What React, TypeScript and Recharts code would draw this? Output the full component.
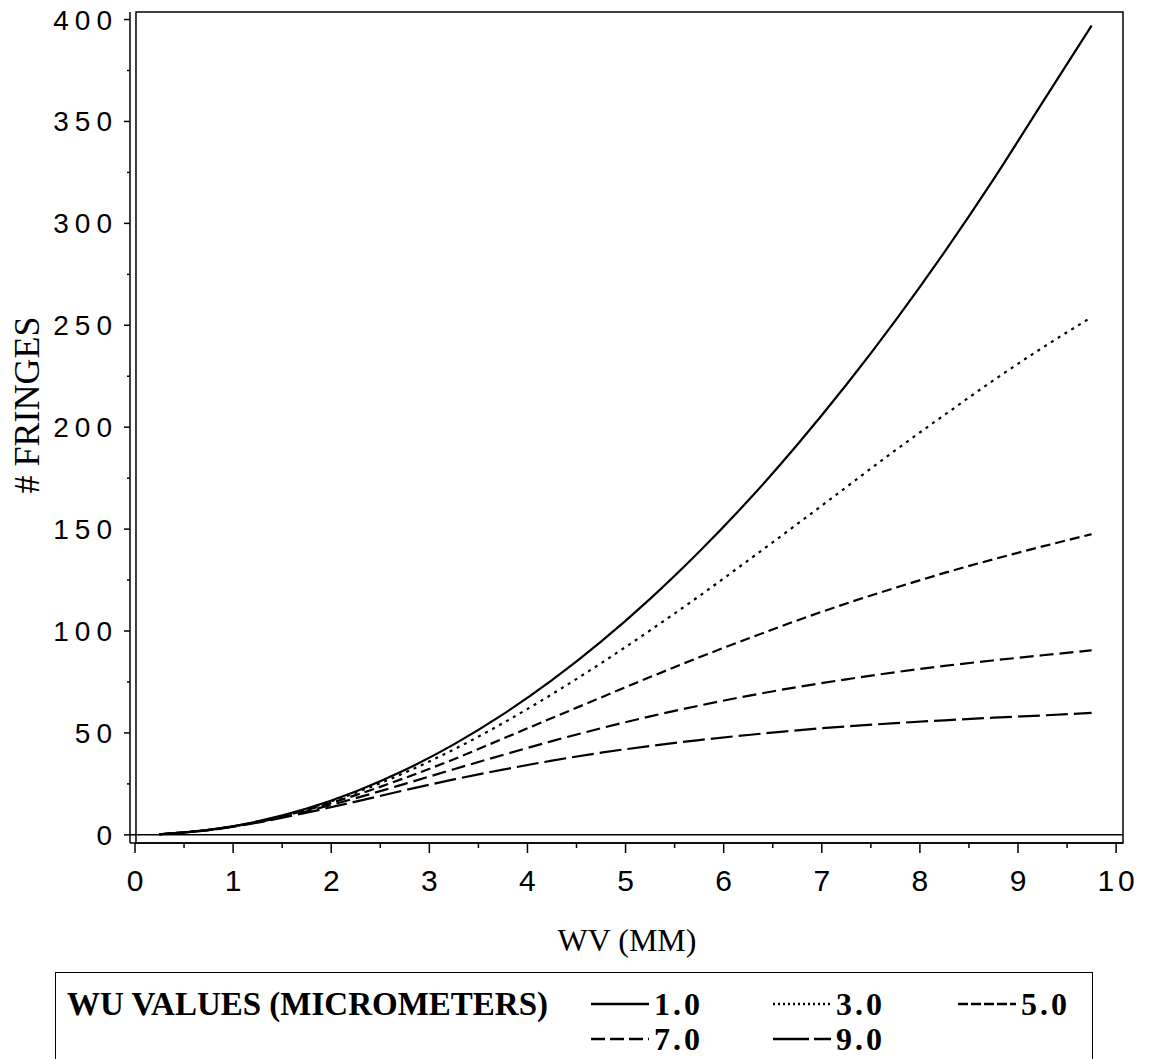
import { LineChart, Line, XAxis, YAxis, ReferenceArea, ReferenceLine, Legend } from "recharts";

// WV (mm) sample positions
const wvValues = [0.25, 0.75, 1.25, 1.75, 2.25, 2.75, 3.25, 3.75, 4.25, 4.75, 5.25, 5.75, 6.25, 6.75, 7.25, 7.75, 8.25, 8.75, 9.25, 9.75];

// # fringes per WU value (micrometers)
const wu1 = [0.3, 2.4, 6.6, 12.9, 21.3, 31.8, 44.4, 59.1, 75.9, 94.8, 115.8, 138.9, 164, 191.4, 220.8, 252.3, 285.9, 321.6, 359.4, 397];
const wu3 = [0.3, 2.4, 6.5, 12.7, 20.7, 30.5, 41.9, 54.8, 69, 84.2, 100.3, 117.1, 134.7, 152.5, 170.6, 188.7, 206, 223, 239, 254];
const wu5 = [0.3, 2.4, 6.4, 12.2, 19.5, 27.9, 37.1, 47.2, 57.3, 67.4, 77.4, 87.1, 96.3, 105.2, 113.5, 121.2, 128.5, 135.2, 141.5, 147.5];
const wu7 = [0.3, 2.35, 6.25, 11.6, 18, 25, 32.2, 39.2, 46, 52.3, 58.1, 63.4, 68.2, 72.5, 76.3, 79.8, 82.9, 85.6, 88.1, 90.5];
const wu9 = [0.3, 2.3, 6, 10.9, 16.3, 21.9, 27.2, 32, 36.4, 40.3, 43.6, 46.5, 49, 51.3, 53.2, 54.8, 56.2, 57.5, 58.6, 59.8];

const xTicks = [0, 0.5, 1, 1.5, 2, 2.5, 3, 3.5, 4, 4.5, 5, 5.5, 6, 6.5, 7, 7.5, 8, 8.5, 9, 9.5, 10];
const yTicks = [0, 25, 50, 75, 100, 125, 150, 175, 200, 225, 250, 275, 300, 325, 350, 375, 400];

const series = [
  { key: "wu1", label: "1.0", dash: undefined, legendDash: undefined },
  { key: "wu3", label: "3.0", dash: "3 5", legendDash: "2 3" },
  { key: "wu5", label: "5.0", dash: "10 5", legendDash: "10 3" },
  { key: "wu7", label: "7.0", dash: "14 6", legendDash: "14 5" },
  { key: "wu9", label: "9.0", dash: "22 6", legendDash: "36 5" },
];

const rows = wvValues.map((wv, i) => ({
  wv,
  wu1: wu1[i],
  wu3: wu3[i],
  wu5: wu5[i],
  wu7: wu7[i],
  wu9: wu9[i],
}));

const sans = "'Liberation Sans', Arial, sans-serif";
const serif = "'Liberation Serif', 'Times New Roman', serif";

function XTick({ x, y, payload }: any) {
  const major = Number.isInteger(payload.value);
  return (
    <g>
      <line x1={x} x2={x} y1={y} y2={y + (major ? 10 : 5)} stroke="#000" strokeWidth={1.5} />
      {major && (
        <text x={x} y={y + 48} dx={2} textAnchor="middle" fontSize={30} fontFamily={sans} letterSpacing={4} fill="#000">
          {payload.value}
        </text>
      )}
    </g>
  );
}

function YTick({ x, y, payload }: any) {
  const major = payload.value % 50 === 0;
  return (
    <g>
      <line x1={x - (major ? 6 : 3)} x2={x} y1={y} y2={y} stroke="#000" strokeWidth={1.5} />
      {major && (
        <text x={x - 12} y={y + 10} textAnchor="end" fontSize={28} fontFamily={sans} letterSpacing={6} fill="#000">
          {payload.value}
        </text>
      )}
    </g>
  );
}

function YTitle() {
  return (
    <text x={27} y={405} transform="rotate(-90 27 405)" textAnchor="middle" dominantBaseline="central" fontSize={36} fontFamily={serif} fill="#000">
      # FRINGES
    </text>
  );
}

function XTitle() {
  return (
    <text x={627} y={951} textAnchor="middle" fontSize={32} fontFamily={serif} fill="#000">
      WV (MM)
    </text>
  );
}

function Sample({ dash, width }: { dash?: string; width: number }) {
  return (
    <svg width={width} height={6} style={{ position: "absolute", left: 0, top: -3 }}>
      <line x1={0} x2={width} y1={3} y2={3} stroke="#000" strokeWidth={2.5} strokeDasharray={dash} />
    </svg>
  );
}

const legendCols = [535, 717, 902];

function LegendBox() {
  return (
    <div
      style={{
        position: "relative",
        width: 1038,
        height: 100,
        borderTop: "1.5px solid #000",
        borderLeft: "1.5px solid #000",
        borderRight: "1.5px solid #000",
        fontFamily: serif,
        fontWeight: "bold",
        fontSize: 32,
        lineHeight: 1,
        color: "#000",
        boxSizing: "border-box",
      }}
    >
      <div style={{ position: "absolute", left: 11, top: 31, transform: "translateY(-50%)", whiteSpace: "nowrap", fontSize: 33 }}>
        WU VALUES (MICROMETERS)
      </div>
      {series.map((s, i) => {
        const col = i % 3;
        const row = Math.floor(i / 3);
        const top = row === 0 ? 31 : 66;
        return (
          <div key={s.key} style={{ position: "absolute", left: legendCols[col], top }}>
            <Sample dash={s.legendDash} width={58} />
            <div style={{ position: "absolute", left: 63, top: 0, transform: "translateY(-50%)", whiteSpace: "nowrap", letterSpacing: 3 }}>
              {s.label}
            </div>
          </div>
        );
      })}
    </div>
  );
}

export default function App() {
  return (
    <div style={{ position: "absolute", left: 0, top: 0, width: 1149, height: 1059, background: "#fff", overflow: "hidden" }}>
      <LineChart width={1149} height={1059} data={rows} margin={{ top: 12, right: 26, bottom: 0, left: 0 }}>
        <XAxis
          type="number"
          dataKey="wv"
          domain={[-0.051, 10.07]}
          ticks={xTicks}
          interval={0}
          height={216}
          tickSize={0}
          tickMargin={0}
          tickLine={false}
          tick={<XTick />}
          axisLine={{ stroke: "#000", strokeWidth: 1.5 }}
          allowDataOverflow
          label={<XTitle />}
        />
        <YAxis
          type="number"
          domain={[-4, 403.7]}
          ticks={yTicks}
          interval={0}
          width={130}
          tickSize={0}
          tickMargin={0}
          tickLine={false}
          tick={<YTick />}
          axisLine={{ stroke: "#000", strokeWidth: 1.5 }}
          allowDataOverflow
          label={<YTitle />}
        />
        <ReferenceArea x1={0.01} x2={10.07} y1={-4} y2={403.7} fill="none" stroke="#000" strokeWidth={1.5} fillOpacity={0} />
        <ReferenceLine y={0} stroke="#000" strokeWidth={1.5} />
        {series.map((s) => (
          <Line
            key={s.key}
            type="monotone"
            dataKey={s.key}
            stroke="#000"
            strokeWidth={2.2}
            strokeDasharray={s.dash}
            dot={false}
            isAnimationActive={false}
          />
        ))}
        <Legend
          layout="vertical"
          align="center"
          verticalAlign="middle"
          wrapperStyle={{ position: "absolute", left: 55, top: 972, width: 1038, height: 100 }}
          content={() => <LegendBox />}
        />
      </LineChart>
    </div>
  );
}
